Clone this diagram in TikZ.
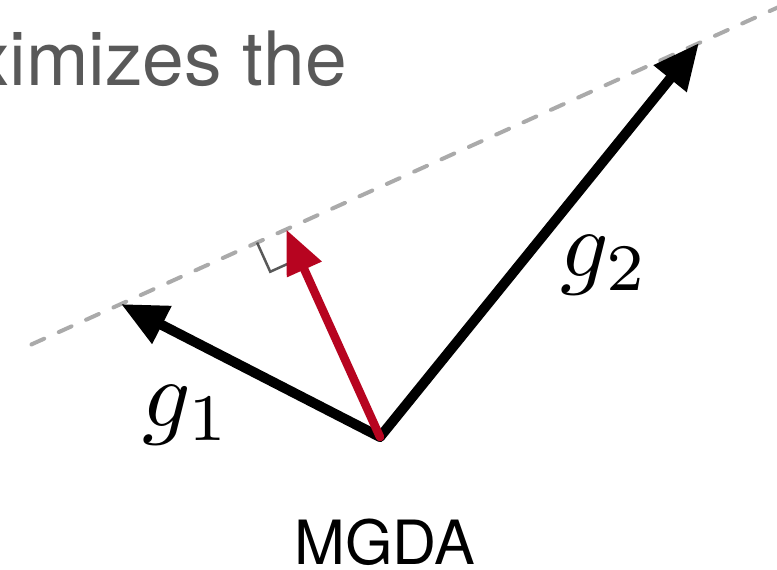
\documentclass[tikz,border=0pt]{standalone}
\usepackage{fontspec}
\newfontfamily\heros{TeX Gyre Heros}
\usetikzlibrary{arrows.meta,calc}
\definecolor{mgdared}{RGB}{183,4,32}
\definecolor{textgray}{RGB}{89,89,89}
\definecolor{dashgray}{RGB}{170,170,170}
\begin{document}
\begin{tikzpicture}[x=1pt,y=-1pt,
  vec/.style={line width=10pt, line cap=round, -{Triangle[length=46pt,width=40pt]}},
  redvec/.style={vec, line width=8.5pt, color=mgdared, -{Triangle[length=44pt,width=36pt]}},
  lbl/.style={anchor=base west, inner sep=0pt, scale=9.5}]
\useasboundingbox (0,0) rectangle (777,570);

\coordinate (o) at (380,437);
\coordinate (g1) at (121,304);
\coordinate (g2) at (699,43);
\coordinate (p) at ($(g1)!(o)!(g2)$);

% line through both tips
\draw[dashgray, line width=4pt, line cap=round, dash pattern=on 14pt off 16pt]
  ($(g1)!-0.155!(g2)$) -- ($(g1)!1.14!(g2)$);

\draw[vec] (o) -- (g1);
\draw[vec] (o) -- (g2);

% right angle
\coordinate (m1) at ($(p)!32pt!(g1)$);
\coordinate (m3) at ($(p)!32pt!(o)$);
\draw[textgray, line width=2.5pt] (m1) -- ($(m1)+(m3)-(p)$) -- (m3);

\draw[redvec] (o) -- (p);

\node[lbl] (l1) at (141,426) {$g_1$};
\node[lbl] (l2) at (559,276) {$g_2$};

\node[anchor=base east, inner sep=0pt, text=textgray,
  font=\heros\fontsize{75}{75}\selectfont] (top) at (347,85) {ximizes the};
\node[anchor=base, inner sep=0pt, font=\heros\fontsize{61}{61}\selectfont]
  (name) at (385,564) {MGDA};
\end{tikzpicture}
\end{document}
